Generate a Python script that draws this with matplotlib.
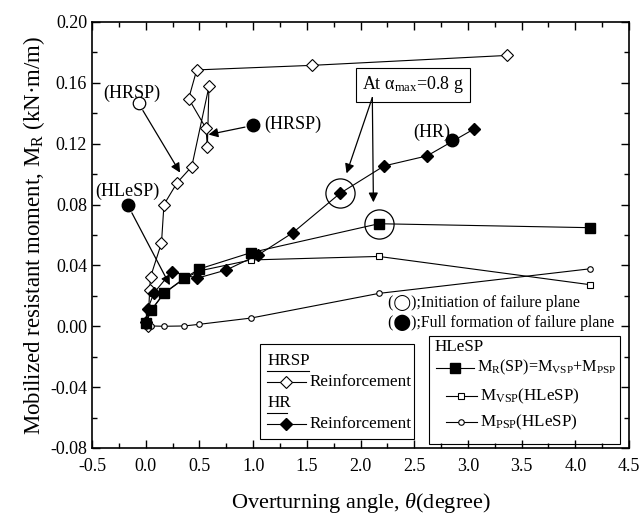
import matplotlib
matplotlib.use("Agg")
import matplotlib.pyplot as plt
from matplotlib.patches import Rectangle

plt.rcParams['font.family'] = ['Liberation Serif', 'DejaVu Serif']
plt.rcParams['mathtext.fontset'] = 'custom'
plt.rcParams['mathtext.rm'] = 'Liberation Serif'
plt.rcParams['mathtext.it'] = 'Liberation Serif:italic'

# HRSP reinforcement (open diamonds)
hrsp_x = [0.02, 0.037, 0.045, 0.147, 0.17, 0.292, 0.429, 0.589, 0.574, 0.562, 0.40, 0.475, 1.55, 3.36]
hrsp_y = [0.000, 0.0236, 0.0324, 0.0548, 0.080, 0.0943, 0.105, 0.1576, 0.1176, 0.130, 0.1496, 0.1685, 0.1715, 0.178]

# HR reinforcement (filled diamonds)
hr_x = [0.006, 0.02, 0.077, 0.242, 0.48, 0.75, 1.05, 1.37, 1.81, 2.22, 2.62, 3.06]
hr_y = [0.003, 0.0115, 0.022, 0.0359, 0.0316, 0.037, 0.047, 0.0615, 0.0874, 0.1054, 0.112, 0.1298]

# HLeSP components
sp_x = [0.0, 0.05, 0.17, 0.36, 0.50, 0.98, 2.17, 4.14]
mr_sp = [0.002, 0.0105, 0.0218, 0.0316, 0.0377, 0.0484, 0.0674, 0.0648]
m_vsp = [0.002, 0.0103, 0.0216, 0.0313, 0.0364, 0.0436, 0.0459, 0.0273]
m_psp = [0.0, 0.0002, 0.0, 0.0002, 0.0013, 0.0054, 0.0216, 0.0378]

# failure plane markers
init_pts = [(-0.066, 0.1465)]                     # HRSP initiation
full_pts = [(1.0, 0.132), (-0.165, 0.0794), (2.85, 0.1226)]  # HRSP, HLeSP, HR

fig, ax = plt.subplots(figsize=(6.42, 5.16), dpi=100)
fig.subplots_adjust(left=0.1433, right=0.9798, bottom=0.1318, top=0.9574)

lw = 0.8
ax.plot(hrsp_x, hrsp_y, color='black', lw=lw, marker='D', ms=6.5, mfc='white', mec='black', mew=0.8, zorder=3)
ax.plot(sp_x, m_psp, color='black', lw=lw, marker='o', ms=4, mfc='white', mec='black', mew=0.8, zorder=3)
ax.plot(sp_x, m_vsp, color='black', lw=lw, marker='s', ms=4, mfc='white', mec='black', mew=0.8, zorder=3)
ax.plot(sp_x, mr_sp, color='black', lw=lw, marker='s', ms=7, mfc='black', mec='black', zorder=4)
ax.plot(hr_x, hr_y, color='black', lw=lw, marker='D', ms=6.5, mfc='black', mec='black', zorder=4)

for x, y in init_pts:
    ax.plot(x, y, marker='o', ms=9, mfc='white', mec='black', mew=0.9, zorder=5)
for x, y in full_pts:
    ax.plot(x, y, marker='o', ms=9, mfc='black', mec='black', zorder=5)

# big circles marking alpha_max = 0.8 g
ax.plot(hr_x[8], hr_y[8], marker='o', ms=21, mfc='none', mec='black', mew=0.9, zorder=5)
ax.plot(sp_x[6], mr_sp[6], marker='o', ms=21, mfc='none', mec='black', mew=0.9, zorder=5)

fs = 13
lfs = 12.3
arrow = dict(arrowstyle='-|>', color='black', lw=0.9, mutation_scale=14, shrinkA=6, shrinkB=0)
ax.annotate('', xy=(0.32, 0.101), xytext=init_pts[0], arrowprops=arrow)
ax.annotate('', xy=(0.585, 0.126), xytext=full_pts[0], arrowprops=arrow)
ax.annotate('', xy=(0.225, 0.027), xytext=full_pts[1], arrowprops=arrow)
ax.text(-0.13, 0.153, '(HRSP)', fontsize=fs, ha='center', va='center')
ax.text(1.10, 0.1325, '(HRSP)', fontsize=fs, ha='left', va='center')
ax.text(-0.17, 0.0885, '(HLeSP)', fontsize=fs, ha='center', va='center')
ax.text(2.66, 0.1275, '(HR)', fontsize=fs, ha='center', va='center')

# "At alpha_max" box
ax.text(2.49, 0.1587, r'At α$_\mathrm{max}$=0.8 g', fontsize=fs, ha='center', va='center',
        bbox=dict(boxstyle='square,pad=0.35', fc='white', ec='black', lw=0.8))
arrow2 = dict(arrowstyle='-|>', color='black', lw=0.9, mutation_scale=14, shrinkA=0, shrinkB=0)
ax.annotate('', xy=(1.87, 0.1005), xytext=(2.11, 0.1503), arrowprops=arrow2)
ax.annotate('', xy=(2.12, 0.0815), xytext=(2.11, 0.1503), arrowprops=arrow2)

# failure plane key
ax.text(2.26, 0.0153, '(◯);Initiation of failure plane', fontsize=11.4, va='center',
        family=['Liberation Serif', 'DejaVu Sans'])
ax.text(2.26, 0.0022, '(⬤);Full formation of failure plane', fontsize=11.4, va='center',
        family=['Liberation Serif', 'DejaVu Sans'])

# legend box 1
ax.add_patch(Rectangle((1.065, -0.0739), 1.435, 0.0623, fill=False, ec='black', lw=0.8, zorder=6))
ax.text(1.13, -0.023, 'HRSP', fontsize=lfs, va='center')
ax.plot([1.13, 1.52], [-0.0295, -0.0295], color='black', lw=0.8)
ax.plot([1.13, 1.49], [-0.0367, -0.0367], color='black', lw=lw)
ax.plot(1.31, -0.0367, marker='D', ms=6.5, mfc='white', mec='black', mew=0.8)
ax.text(1.53, -0.0367, 'Reinforcement', fontsize=lfs, va='center')
ax.text(1.13, -0.0505, 'HR', fontsize=lfs, va='center')
ax.plot([1.13, 1.32], [-0.057, -0.057], color='black', lw=0.8)
ax.plot([1.13, 1.49], [-0.064, -0.064], color='black', lw=lw)
ax.plot(1.31, -0.064, marker='D', ms=6.5, mfc='black', mec='black')
ax.text(1.53, -0.064, 'Reinforcement', fontsize=lfs, va='center')

# legend box 2
ax.add_patch(Rectangle((2.64, -0.0776), 1.78, 0.0715, fill=False, ec='black', lw=0.8, zorder=6))
ax.text(2.69, -0.0138, 'HLeSP', fontsize=lfs, va='center')
ax.plot([2.70, 3.06], [-0.0273, -0.0273], color='black', lw=lw)
ax.plot(2.88, -0.0273, marker='s', ms=7, mfc='black', mec='black')
ax.text(3.08, -0.0273, r'M$_\mathrm{R}$(SP)=M$_\mathrm{VSP}$+M$_\mathrm{PSP}$', fontsize=11.6, va='center')
ax.plot([2.80, 3.08], [-0.046, -0.046], color='black', lw=lw)
ax.plot(2.94, -0.046, marker='s', ms=4, mfc='white', mec='black', mew=0.8)
ax.text(3.11, -0.046, r'M$_\mathrm{VSP}$(HLeSP)', fontsize=lfs, va='center')
ax.plot([2.80, 3.08], [-0.0632, -0.0632], color='black', lw=lw)
ax.plot(2.94, -0.0632, marker='o', ms=4, mfc='white', mec='black', mew=0.8)
ax.text(3.11, -0.0632, r'M$_\mathrm{PSP}$(HLeSP)', fontsize=lfs, va='center')

ax.set_xlim(-0.5, 4.5)
ax.set_ylim(-0.08, 0.20)
ax.set_xticks([-0.5, 0.0, 0.5, 1.0, 1.5, 2.0, 2.5, 3.0, 3.5, 4.0, 4.5])
ax.set_xticks([x * 0.25 - 0.5 for x in range(21)], minor=True)
ax.set_yticks([-0.08, -0.04, 0.0, 0.04, 0.08, 0.12, 0.16, 0.20])
ax.set_yticks([y * 0.02 - 0.08 for y in range(15)], minor=True)
ax.xaxis.set_major_formatter(matplotlib.ticker.FormatStrFormatter('%.1f'))
ax.yaxis.set_major_formatter(matplotlib.ticker.FormatStrFormatter('%.2f'))
ax.tick_params(which='both', direction='in', top=True, right=True, labelsize=fs)
ax.tick_params(which='major', length=6, width=1)
ax.tick_params(which='minor', length=3.5, width=1)
ax.tick_params(axis='x', which='major', pad=7)
for s in ax.spines.values():
    s.set_linewidth(1.2)

ax.set_xlabel(r'Overturning angle, $\mathit{\theta}$(degree)', fontsize=16, labelpad=12)
ax.set_ylabel(r'Mobilized resistant moment, M$_\mathrm{R}$ (kN·m/m)', fontsize=16.5, labelpad=2)

fig.savefig('out.png', dpi=100)
